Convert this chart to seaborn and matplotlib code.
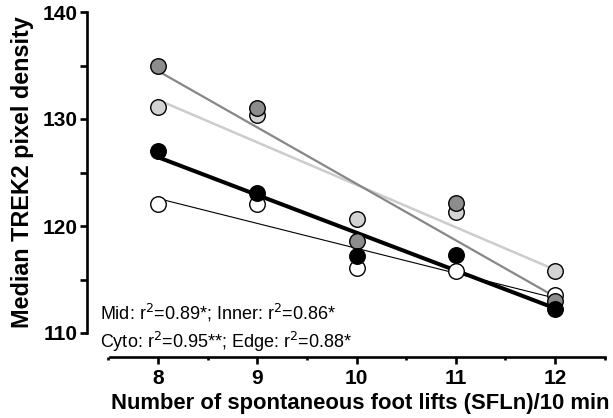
import numpy as np
import pandas as pd
import seaborn as sns
import matplotlib.pyplot as plt
from matplotlib.ticker import MultipleLocator

sns.set_style('ticks')
plt.rcParams['font.family'] = ['Liberation Sans', 'DejaVu Sans']
plt.rcParams['text.color'] = 'black'
plt.rcParams['axes.labelcolor'] = 'black'
plt.rcParams['xtick.color'] = 'black'
plt.rcParams['ytick.color'] = 'black'

sfl = [8, 9, 10, 11, 12]
cyto = [127.0, 123.1, 117.2, 117.3, 112.25]
mid = [134.95, 131.0, 118.6, 122.15, 113.0]
inner = [131.1, 130.4, 120.65, 121.3, 115.8]
edge = [122.06, 122.06, 116.1, 115.8, 113.55]

df = pd.DataFrame({'SFLn': sfl * 4,
                   'density': inner + edge + mid + cyto,
                   'region': ['Inner'] * 5 + ['Edge'] * 5 + ['Mid'] * 5 + ['Cyto'] * 5})

# fill, line colour, line width, zorder
styles = {'Inner': ('#d3d3d3', '#cccccc', 1.8, 2),
          'Edge': ('white', 'black', 0.8, 3),
          'Mid': ('#8c8c8c', '#878787', 1.6, 4),
          'Cyto': ('black', 'black', 2.9, 5)}

fig = plt.figure(figsize=(6.13, 4.18), dpi=100)
ax = fig.add_axes([87 / 613, 85 / 418, 526 / 613, 321 / 418])

for name, (fill, lc, lw, z) in styles.items():
    d = df[df.region == name]
    sns.regplot(data=d, x='SFLn', y='density', ax=ax, ci=None, truncate=True,
                scatter_kws=dict(s=125, color=fill, edgecolors='black', linewidths=1,
                                 alpha=1, zorder=z + 10),
                line_kws=dict(color=lc, lw=lw, zorder=z))

ax.set_xlim(7.285, 12.584)
ax.set_ylim(110, 140)
ax.spines['top'].set_visible(False)
ax.spines['right'].set_visible(False)
for s in ['left', 'bottom']:
    ax.spines[s].set_linewidth(1.9)
    ax.spines[s].set_color('black')
ax.spines['left'].set_bounds(110, 140)
ax.spines['bottom'].set_position(('outward', 17.5))
ax.spines['bottom'].set_bounds(7.52, 12.5)

ax.yaxis.set_major_locator(MultipleLocator(10))
ax.yaxis.set_minor_locator(MultipleLocator(5))
ax.xaxis.set_major_locator(MultipleLocator(1))
ax.xaxis.set_minor_locator(MultipleLocator(0.5))
ax.tick_params(axis='both', which='major', length=5, width=1.9, labelsize=15, pad=2)
ax.tick_params(axis='x', which='major', pad=3.5)
ax.tick_params(axis='y', which='minor', length=5, width=1.9)
ax.tick_params(axis='x', which='minor', length=2.5, width=1.9)
for lab in ax.get_xticklabels() + ax.get_yticklabels():
    lab.set_fontweight('bold')

ax.set_xlabel('Number of spontaneous foot lifts (SFLn)/10 min', fontsize=15.8,
              fontweight='bold')
ax.xaxis.set_label_coords(0.519, -0.187)
ax.xaxis.label.set_va('top')
ax.set_ylabel('Median TREK2 pixel density', fontsize=16.8, fontweight='bold', labelpad=6)

fig.text(100 / 613, (418 - 313) / 418, 'Mid: r$^2$=0.89*; Inner: r$^2$=0.86*',
         fontsize=13, va='center', ha='left')
fig.text(100 / 613, (418 - 342) / 418, 'Cyto: r$^2$=0.95**; Edge: r$^2$=0.88*',
         fontsize=13, va='center', ha='left')

fig.savefig('out.png', dpi=100)
